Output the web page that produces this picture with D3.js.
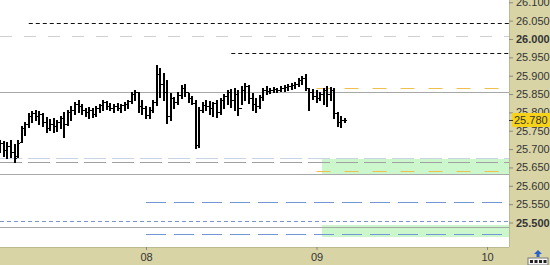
<!DOCTYPE html>
<html>
<head>
<meta charset="utf-8">
<script src="https://cdnjs.cloudflare.com/ajax/libs/d3/7.8.5/d3.min.js"></script>
<style>
  body { margin: 0; background: #fff; }
  svg { display: block; }
  text { font-family: "Liberation Sans", Arial, sans-serif; font-size: 11px; fill: #333; }
</style>
</head>
<body>
<script>
// --- data (30 minute bars) ---
var barStart = new Date(2024, 0, 7, 3, 30);
var barStepMin = 30;
var barOpen = [
  25.703,25.717,25.698,25.708,25.692,25.681,25.719,25.757,25.768,25.790,
  25.798,25.790,25.796,25.774,25.757,25.768,25.763,25.774,25.785,25.768,
  25.801,25.807,25.823,25.817,25.807,25.801,25.807,25.796,25.812,25.820,
  25.828,25.817,25.812,25.817,25.812,25.820,25.823,25.831,25.850,25.856,
  25.817,25.812,25.793,25.807,25.828,25.905,25.877,25.856,25.790,25.839,
  25.828,25.847,25.866,25.856,25.839,25.826,25.711,25.807,25.820,25.817,
  25.812,25.826,25.801,25.834,25.845,25.856,25.834,25.850,25.812,25.861,
  25.872,25.839,25.823,25.817,25.842,25.861,25.858,25.861,25.864,25.861,
  25.866,25.869,25.872,25.875,25.877,25.888,25.894,25.866,25.856,25.845,
  25.839,25.850,25.861,25.850,25.861,25.798,25.774,25.779];
var barHigh = [
  25.725,25.722,25.719,25.725,25.714,25.725,25.763,25.774,25.798,25.804,
  25.807,25.804,25.798,25.787,25.782,25.785,25.779,25.790,25.801,25.807,
  25.817,25.828,25.834,25.823,25.812,25.815,25.812,25.817,25.823,25.834,
  25.831,25.826,25.823,25.826,25.823,25.828,25.834,25.856,25.861,25.856,
  25.834,25.817,25.815,25.834,25.929,25.921,25.907,25.888,25.853,25.842,
  25.856,25.875,25.877,25.853,25.845,25.834,25.815,25.828,25.834,25.831,
  25.828,25.834,25.839,25.850,25.861,25.864,25.866,25.861,25.872,25.880,
  25.875,25.853,25.839,25.847,25.866,25.872,25.866,25.869,25.866,25.872,
  25.875,25.877,25.880,25.883,25.894,25.899,25.905,25.866,25.864,25.861,
  25.856,25.866,25.872,25.869,25.866,25.801,25.790,25.785];
var barLow = [
  25.692,25.681,25.676,25.678,25.665,25.678,25.719,25.738,25.760,25.774,
  25.779,25.768,25.763,25.747,25.752,25.747,25.749,25.757,25.733,25.766,
  25.779,25.796,25.801,25.796,25.790,25.785,25.787,25.790,25.801,25.807,
  25.809,25.807,25.801,25.807,25.801,25.807,25.812,25.826,25.834,25.801,
  25.796,25.785,25.785,25.801,25.820,25.842,25.834,25.771,25.779,25.812,
  25.823,25.839,25.845,25.828,25.823,25.703,25.706,25.801,25.807,25.796,
  25.790,25.787,25.796,25.812,25.823,25.815,25.807,25.793,25.823,25.834,
  25.826,25.807,25.801,25.812,25.834,25.850,25.853,25.856,25.856,25.858,
  25.858,25.861,25.864,25.866,25.872,25.877,25.861,25.807,25.837,25.828,
  25.834,25.823,25.817,25.834,25.785,25.763,25.760,25.774];
var barClose = [
  25.717,25.698,25.708,25.692,25.676,25.717,25.757,25.768,25.790,25.798,
  25.790,25.796,25.774,25.757,25.768,25.763,25.774,25.785,25.768,25.801,
  25.807,25.823,25.817,25.807,25.801,25.807,25.796,25.812,25.820,25.828,
  25.817,25.812,25.817,25.812,25.820,25.823,25.831,25.850,25.856,25.817,
  25.812,25.793,25.807,25.828,25.905,25.877,25.856,25.790,25.839,25.828,
  25.847,25.866,25.856,25.839,25.826,25.711,25.807,25.820,25.817,25.812,
  25.826,25.801,25.834,25.845,25.856,25.834,25.850,25.812,25.861,25.872,
  25.839,25.823,25.817,25.842,25.861,25.858,25.861,25.864,25.861,25.866,
  25.869,25.872,25.875,25.877,25.888,25.894,25.866,25.856,25.845,25.839,
  25.850,25.861,25.850,25.861,25.798,25.774,25.779,25.780];

// horizontal levels
var blackLevels = [26.043, 25.961];
var blackFrom = [new Date(2024,0,7,7,30), new Date(2024,0,8,12,0)];
var pivotLevels = [26.008];
var closeLevels = [25.855, 25.633, 25.487];
var faintLevels = [25.677];
var greyDashLevels = [25.666];
var orangeLevels = [25.866, 25.639];
var blueLevels = [25.556, 25.468];
var blueDotLevels = [25.504];
var zoneTop = [25.673, 25.493];
var zoneBottom = [25.632, 25.460];

var orangeFrom = new Date(2024,0,9,0,0), blueFrom = new Date(2024,0,8,0,0);
var zoneFrom = new Date(2024,0,9,0,45), levelTo = new Date(2024,0,10,2,15);

var dayTicks = [new Date(2024,0,8), new Date(2024,0,9), new Date(2024,0,10)];
var priceTicks = d3.range(0, 13).map(function(i){ return +(25.5 + i * 0.05).toFixed(3); });
var lastPrice = 25.780;

(function(){
  const W = 550, H = 265;
  const PLOT_R = 509, PLOT_B = 247;
  const PANEL = '#d8d4a6';

  var svg = d3.select('body').append('svg').attr('width', W).attr('height', H);

  var x = d3.scaleTime().domain([dayTicks[0], dayTicks[2]]).range([146, 487]);
  var y = d3.scaleLinear().domain([25.5, 26.0]).range([222.5, 39]);

  var plot = svg.append('g');
  plot.append('rect').attr('width', PLOT_R).attr('height', PLOT_B).attr('fill', '#fff');

  // zones
  plot.selectAll('rect.zone').data(zoneTop).enter().append('rect')
    .attr('class', 'zone')
    .attr('x', Math.round(x(zoneFrom)))
    .attr('y', function(d){ return Math.round(y(d)); })
    .attr('width', function(){ return PLOT_R - Math.round(x(zoneFrom)); })
    .attr('height', function(d, i){ return Math.round(y(zoneBottom[i])) - Math.round(y(d)); })
    .attr('fill', '#ccf7cc');

  function hline(vals, x0, x1, color, dash, cls){
    plot.selectAll('line.' + cls).data(vals).enter().append('line')
      .attr('class', cls)
      .attr('x1', function(d, i){ return typeof x0 === 'function' ? x0(d, i) : x0; })
      .attr('x2', x1)
      .attr('y1', function(d){ return Math.round(y(d)) + 0.5; })
      .attr('y2', function(d){ return Math.round(y(d)) + 0.5; })
      .attr('stroke', color)
      .attr('stroke-width', 1)
      .attr('stroke-dasharray', dash);
  }

  hline(pivotLevels, 0, PLOT_R, '#cfcfcf', '12,12', 'pivot');
  hline(blackLevels, function(d, i){ return x(blackFrom[i]); }, PLOT_R, '#111', '4,3', 'black');
  hline(closeLevels, 0, PLOT_R, '#a8a8a8', null, 'close');
  hline(faintLevels, 0, PLOT_R, '#c9d3e6', '22,6', 'faint');
  hline(greyDashLevels, 0, PLOT_R, '#a0a0a0', '22,6', 'greydash');
  hline(orangeLevels, x(orangeFrom), x(levelTo), '#eec050', '14,14', 'orange');
  hline(blueLevels, x(blueFrom), x(levelTo), '#7396d4', '20,8', 'blue');
  hline(blueDotLevels, 0, PLOT_R, '#7b96cf', '4,3', 'bluedot');

  // OHLC bars
  var bars = plot.selectAll('g.bar').data(barClose).enter().append('g').attr('class', 'bar')
    .attr('shape-rendering', 'crispEdges');
  function bx(i){ return Math.round(x(d3.timeMinute.offset(barStart, i * barStepMin))); }
  bars.append('line')
    .attr('x1', function(d, i){ return bx(i); }).attr('x2', function(d, i){ return bx(i); })
    .attr('y1', function(d, i){ return Math.round(y(barHigh[i])); })
    .attr('y2', function(d, i){ return Math.round(y(barLow[i])) + 1; })
    .attr('stroke', '#000').attr('stroke-width', 2);
  bars.append('line')
    .attr('x1', function(d, i){ return bx(i) - 2; }).attr('x2', function(d, i){ return bx(i); })
    .attr('y1', function(d, i){ return Math.round(y(barOpen[i])) + 0.5; })
    .attr('y2', function(d, i){ return Math.round(y(barOpen[i])) + 0.5; })
    .attr('stroke', '#000').attr('stroke-width', 1.5);
  bars.append('line')
    .attr('x1', function(d, i){ return bx(i); }).attr('x2', function(d, i){ return bx(i) + 2; })
    .attr('y1', function(d){ return Math.round(y(d)) + 0.5; })
    .attr('y2', function(d){ return Math.round(y(d)) + 0.5; })
    .attr('stroke', '#000').attr('stroke-width', 1.5);

  // right price panel
  svg.append('rect').attr('x', PLOT_R).attr('y', 0).attr('width', W - PLOT_R).attr('height', H).attr('fill', PANEL);
  svg.append('rect').attr('x', 0).attr('y', PLOT_B).attr('width', W).attr('height', H - PLOT_B).attr('fill', PANEL);
  svg.append('line').attr('x1', PLOT_R + 0.5).attr('x2', PLOT_R + 0.5).attr('y1', 0).attr('y2', PLOT_B)
    .attr('stroke', '#bdb98e');
  svg.append('line').attr('x1', 0).attr('x2', PLOT_R).attr('y1', PLOT_B + 0.5).attr('y2', PLOT_B + 0.5)
    .attr('stroke', '#bdb98e');

  var yAxis = svg.append('g').attr('transform', 'translate(' + PLOT_R + ',0)')
    .call(d3.axisRight(y).tickValues(priceTicks).tickFormat(d3.format('.3f')).tickSize(4).tickPadding(3));
  yAxis.select('.domain').remove();
  yAxis.selectAll('.tick line').attr('stroke', '#8a8a7a');
  yAxis.selectAll('.tick text')
    .style('font-family', '"Liberation Sans", Arial, sans-serif').style('font-size', '11px')
    .attr('fill', '#333')
    .style('font-weight', function(d){ return (Math.abs(d - 26) < 1e-6 || Math.abs(d - 25.5) < 1e-6) ? 'bold' : 'normal'; });

  // last price tag
  var ty = Math.round(y(lastPrice));
  svg.append('rect').attr('x', PLOT_R + 3).attr('y', ty - 7).attr('width', W - PLOT_R - 3).attr('height', 14)
    .attr('fill', '#f6d31a');
  svg.append('line').attr('x1', PLOT_R).attr('x2', PLOT_R + 4).attr('y1', ty + 0.5).attr('y2', ty + 0.5).attr('stroke', '#333');
  svg.append('text').attr('x', PLOT_R + 5).attr('y', ty + 4).text(d3.format('.3f')(lastPrice));

  // bottom time axis
  var xAxis = svg.append('g').attr('transform', 'translate(0,' + PLOT_B + ')')
    .call(d3.axisBottom(x).tickValues(dayTicks).tickFormat(d3.timeFormat('%d')).tickSize(3).tickPadding(3));
  xAxis.select('.domain').remove();
  xAxis.selectAll('.tick line').attr('stroke', '#8a8a7a');
  xAxis.selectAll('.tick text')
    .style('font-family', '"Liberation Sans", Arial, sans-serif').style('font-size', '11px')
    .attr('fill', '#333');

  // little corner button
  var btn = svg.append('g').attr('transform', 'translate(528,250)');
  btn.append('path').attr('d', 'M10,0 L14,4 L11.5,4 L11.5,7 L8.5,7 L8.5,4 L6,4 Z').attr('fill', '#2a62c8');
  btn.append('rect').attr('x', 0).attr('y', 8).attr('width', 20).attr('height', 7).attr('fill', '#f4f4f4')
    .attr('stroke', '#777');
  btn.selectAll('rect.dot').data([0, 1, 2, 3]).enter().append('rect')
    .attr('x', function(d){ return 2 + d * 4.5; }).attr('y', 10).attr('width', 3).attr('height', 3).attr('fill', '#222');
})();
</script>
</body>
</html>
